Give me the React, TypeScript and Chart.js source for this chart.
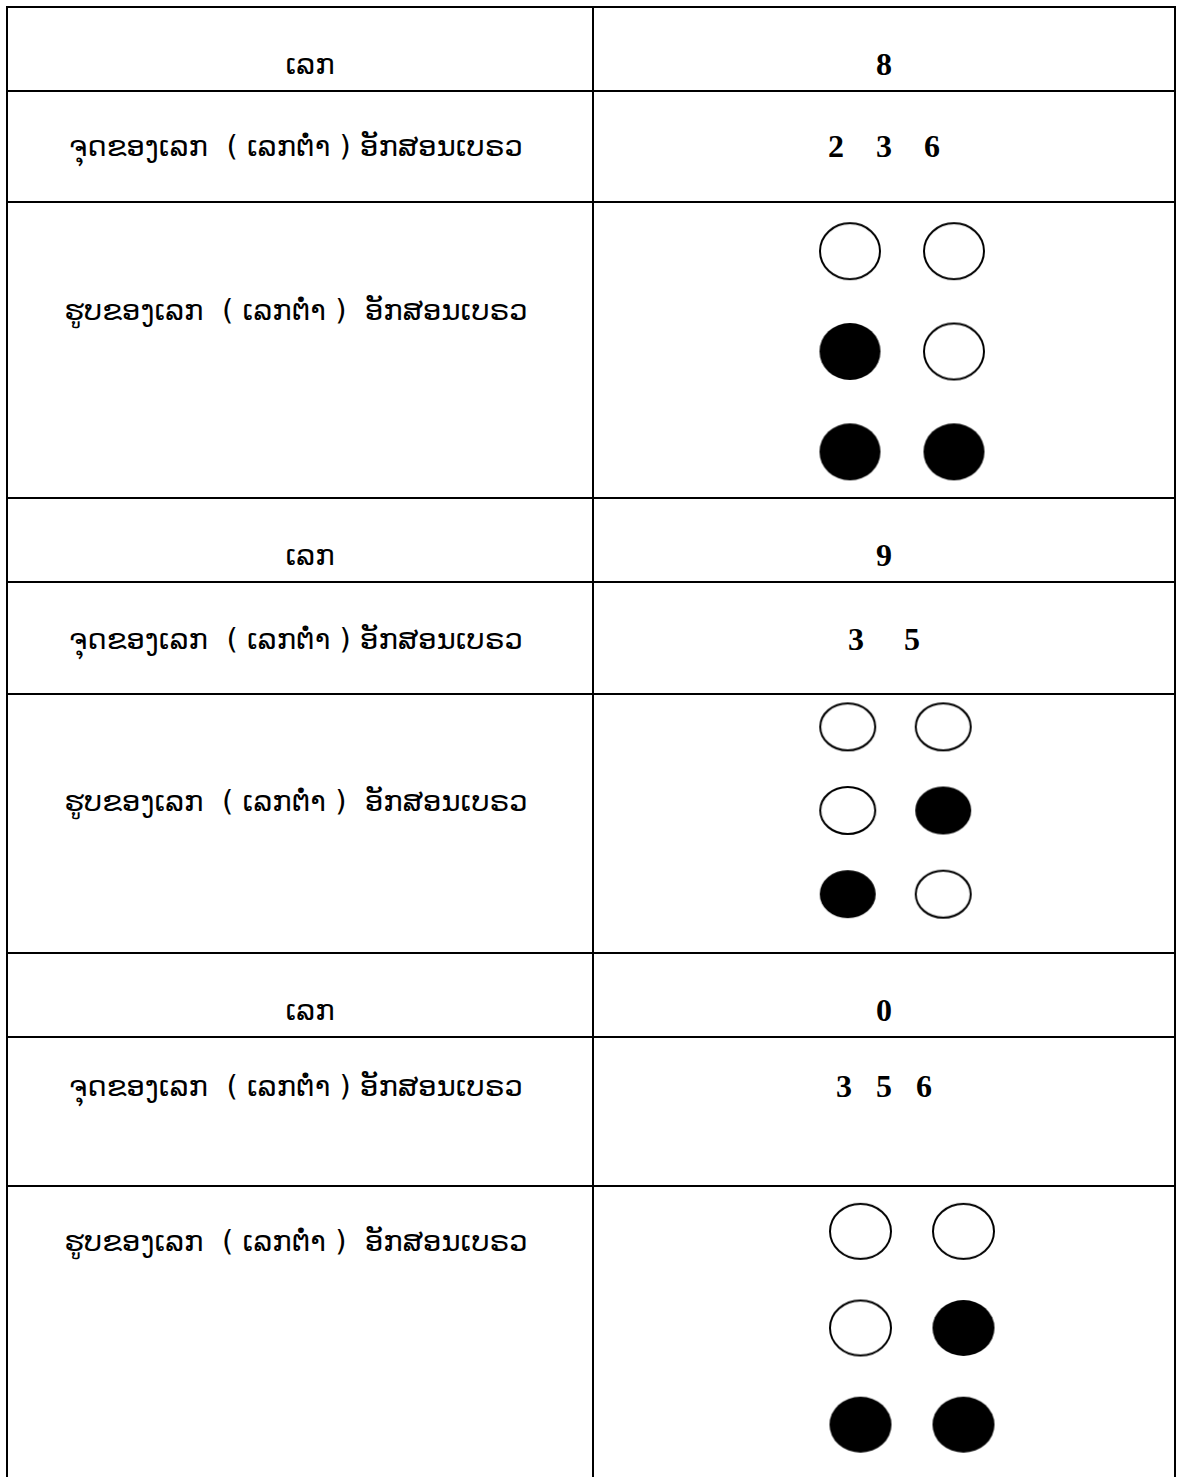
import React, { useEffect, useRef } from 'react';
import { Chart, registerables } from 'chart.js';

Chart.register(...registerables);

// ---------- data ----------
const digits = ['8', '9', '0'];
const raisedDots8 = [2, 3, 6];
const raisedDots9 = [3, 5];
const raisedDots0 = [3, 5, 6];
const raisedDotsByDigit = [raisedDots8, raisedDots9, raisedDots0];
const dotNumbers = [1, 2, 3, 4, 5, 6];
const dotColumns = [1, 1, 1, 2, 2, 2];
const dotRows = [1, 2, 3, 1, 2, 3];
const labelNumber = 'ເລກ';
const labelDots = 'ຈຸດຂອງເລກ  ( ເລກຕ່ຳ ) ອັກສອນເບຣວ';
const labelShape = 'ຮູບຂອງເລກ  ( ເລກຕ່ຳ )  ອັກສອນເບຣວ';

// ---------- layout ----------
const W = 1178;
const H = 1477;
const X_LEFT = 7;
const X_MID = 593;
const X_RIGHT = 1175;
const ROW_LINES = [7, 91, 202, 498, 582, 694, 953, 1037, 1186];
const LINE_W = 2;
const LAO_FONT = '"DejaVu Sans", sans-serif';
const LAO_SIZE = 29;
const NUM_FONT = '"Liberation Serif", "Times New Roman", serif';
const NUM_SIZE = 32;
const SHORT_LABEL_SHIFT = 10;
const LONG_LABEL_SHIFT = -4;

const groupLayouts = [
  { numberBase: 75, dotsBase: 157, shapeBase: 321, spaces: 4, cell: { left: 798, top: 201, width: 208, height: 301, dotW: 60, dotH: 56 } },
  { numberBase: 566, dotsBase: 650, shapeBase: 812, spaces: 5, cell: { left: 800, top: 685, width: 191, height: 251, dotW: 55, dotH: 47 } },
  { numberBase: 1021, dotsBase: 1097, shapeBase: 1252, spaces: 3, cell: { left: 809, top: 1183, width: 206, height: 290, dotW: 61, dotH: 55 } },
];

function makeDot(w: number, h: number, filled: boolean): HTMLCanvasElement {
  const c = document.createElement('canvas');
  c.width = w + 4;
  c.height = h + 4;
  const ctx = c.getContext('2d')!;
  ctx.beginPath();
  ctx.ellipse(c.width / 2, c.height / 2, w / 2, h / 2, 0, 0, Math.PI * 2);
  if (filled) {
    ctx.fillStyle = '#000';
    ctx.fill();
  } else {
    ctx.fillStyle = '#fff';
    ctx.fill();
    ctx.lineWidth = 2;
    ctx.strokeStyle = '#000';
    ctx.stroke();
  }
  return c;
}

function BrailleCell({ index }: { index: number }) {
  const ref = useRef<HTMLCanvasElement>(null);
  const cell = groupLayouts[index].cell;
  useEffect(() => {
    if (!ref.current) return;
    const raised = raisedDotsByDigit[index];
    const raisedPts = dotNumbers
      .filter((d) => raised.includes(d))
      .map((d) => ({ x: dotColumns[d - 1], y: dotRows[d - 1] }));
    const flatPts = dotNumbers
      .filter((d) => !raised.includes(d))
      .map((d) => ({ x: dotColumns[d - 1], y: dotRows[d - 1] }));
    const chart = new Chart(ref.current, {
      type: 'scatter',
      data: {
        datasets: [
          { label: 'raised', data: raisedPts, pointStyle: makeDot(cell.dotW + 1, cell.dotH + 1, true) as any, pointRadius: 10, pointHoverRadius: 10 },
          { label: 'flat', data: flatPts, pointStyle: makeDot(cell.dotW, cell.dotH, false) as any, pointRadius: 10, pointHoverRadius: 10 },
        ],
      },
      options: {
        animation: false,
        responsive: false,
        devicePixelRatio: 1,
        events: [],
        layout: { padding: 0, autoPadding: false },
        plugins: { legend: { display: false }, tooltip: { enabled: false } },
        scales: {
          x: { type: 'linear', min: 0.5, max: 2.5, display: false },
          y: { type: 'linear', min: 0.5, max: 3.5, reverse: true, display: false },
        },
      },
    });
    return () => chart.destroy();
  }, [index]);
  return (
    <canvas
      ref={ref}
      width={cell.width}
      height={cell.height}
      style={{ position: 'absolute', left: cell.left, top: cell.top, width: cell.width, height: cell.height }}
    />
  );
}

function Text({ text, base, left, width, font, size, bold }: { text: string; base: number; left: number; width: number; font: string; size: number; bold?: boolean }) {
  const asc = font.includes('DejaVu') ? 0.846 : 0.8375;
  return (
    <div
      style={{
        position: 'absolute',
        left,
        width,
        top: base - asc * size,
        fontFamily: font,
        fontSize: size,
        lineHeight: `${size}px`,
        fontWeight: bold ? 'bold' : 'normal',
        textAlign: 'center',
        whiteSpace: 'pre',
        color: '#000',
      }}
    >
      {text}
    </div>
  );
}

export default function App() {
  const lines: React.ReactNode[] = [];
  ROW_LINES.forEach((y, i) => {
    lines.push(
      <div key={'h' + i} style={{ position: 'absolute', left: X_LEFT - 1, top: y - 1, width: X_RIGHT - X_LEFT + 2, height: LINE_W, background: '#000' }} />
    );
  });
  [X_LEFT, X_MID, X_RIGHT].forEach((x, i) => {
    lines.push(
      <div key={'v' + i} style={{ position: 'absolute', left: x - 1, top: ROW_LINES[0] - 1, width: LINE_W, height: H - ROW_LINES[0] + 1, background: '#000' }} />
    );
  });
  const leftW = X_MID - X_LEFT;
  const rightW = X_RIGHT - X_MID;
  return (
    <div style={{ position: 'absolute', left: 0, top: 0, width: W, height: H, background: '#fff', overflow: 'hidden' }}>
      {lines}
      {groupLayouts.map((g, i) => (
        <React.Fragment key={i}>
          <Text text={labelNumber} base={g.numberBase} left={X_LEFT + SHORT_LABEL_SHIFT} width={leftW} font={LAO_FONT} size={LAO_SIZE} />
          <Text text={digits[i]} base={g.numberBase} left={X_MID} width={rightW} font={NUM_FONT} size={NUM_SIZE} bold />
          <Text text={labelDots} base={g.dotsBase} left={X_LEFT + LONG_LABEL_SHIFT} width={leftW} font={LAO_FONT} size={LAO_SIZE} />
          <Text text={raisedDotsByDigit[i].join(' '.repeat(g.spaces))} base={g.dotsBase} left={X_MID} width={rightW} font={NUM_FONT} size={NUM_SIZE} bold />
          <Text text={labelShape} base={g.shapeBase} left={X_LEFT + LONG_LABEL_SHIFT} width={leftW} font={LAO_FONT} size={LAO_SIZE} />
          <BrailleCell index={i} />
        </React.Fragment>
      ))}
    </div>
  );
}
